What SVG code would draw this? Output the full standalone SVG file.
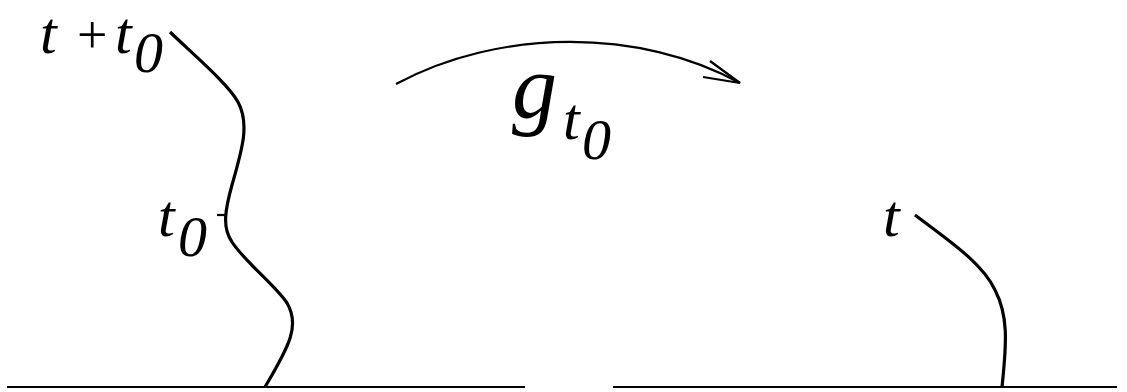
<svg xmlns="http://www.w3.org/2000/svg" width="1127" height="392" viewBox="0 0 1127 392">
<style>
.ln{fill:none;stroke:#000;stroke-width:2.2}
.cv{fill:none;stroke:#000;stroke-width:3.2;stroke-linecap:butt}
</style>
<g id="connectors">
<line class="ln" x1="7" y1="387" x2="525" y2="387"/>
<line class="ln" x1="613" y1="387" x2="1117" y2="387"/>
<path class="cv" d="M170,32 C195,56 228,84 238,102 C250,124 242,150 232,185 C225,210 222,228 232,242 C245,262 275,285 287,303 C300,325 290,345 265,387"/>
<line class="ln" x1="217" y1="215" x2="226" y2="215"/>
<path class="cv" d="M915,215 C945,238 982,262 995,290 C1008,315 1007,340 1002,387"/>
<path class="ln" d="M396,84 C500,28 640,28 740,83"/>
<path class="ln" d="M710,61 L740,83 L703,77"/>
</g>
<g id="label-ttop">
<text x="40" y="53" font-size="60" font-family="Times New Roman, Liberation Serif, serif" font-style="italic">t</text>
<text x="77" y="53" font-size="54" font-family="Times New Roman, Liberation Serif, serif">+</text>
<text x="115" y="53" font-size="60" font-family="Times New Roman, Liberation Serif, serif" font-style="italic">t</text>
<text x="134" y="72" font-size="58" font-family="Times New Roman, Liberation Serif, serif" font-style="italic">0</text>
</g>
<g id="label-t0">
<text x="158" y="236" font-size="60" font-family="Times New Roman, Liberation Serif, serif" font-style="italic">t</text>
<text x="178" y="256" font-size="58" font-family="Times New Roman, Liberation Serif, serif" font-style="italic">0</text>
</g>
<g id="label-g">
<text x="512" y="118" font-size="90" font-family="Times New Roman, Liberation Serif, serif" font-style="italic">g</text>
<text x="563" y="139" font-size="60" font-family="Times New Roman, Liberation Serif, serif" font-style="italic">t</text>
<text x="582" y="159" font-size="58" font-family="Times New Roman, Liberation Serif, serif" font-style="italic">0</text>
</g>
<g id="label-t">
<text x="883" y="236" font-size="60" font-family="Times New Roman, Liberation Serif, serif" font-style="italic">t</text>
</g>
</svg>
